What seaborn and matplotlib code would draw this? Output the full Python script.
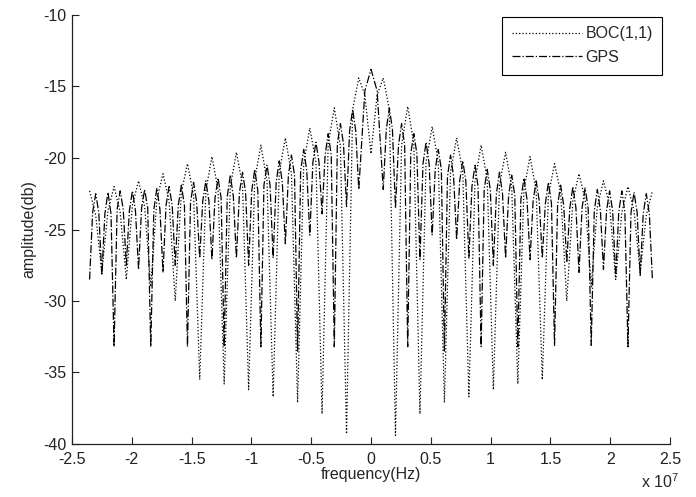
import matplotlib
matplotlib.use("Agg")
import pandas as pd
import matplotlib.pyplot as plt
import seaborn as sns

chip_rate = 1.023e6  # Hz, spectrum nulls sit on multiples of the chip rate

# GPS C/A (BPSK): one lobe per chip, nulls at every chip multiple
gps_null_k = list(range(-23, 0)) + list(range(1, 24))
gps_null_db = [
    -28.5, -28.2, -33.2, -27.5, -27.8, -33.2, -28.0, -27.5, -33.2, -27.0, -27.1, -33.2,
    -27.0, -27.5, -33.2, -27.0, -26.0, -33.5, -25.4, -23.9, -33.2, -23.4, -22.2,
    -22.2, -23.5, -33.2, -27.1, -25.4, -33.5, -25.7, -27.0, -33.2, -27.5, -27.0, -33.2,
    -27.1, -27.0, -33.1, -27.3, -28.0, -33.1, -27.8, -28.3, -33.2, -28.2, -28.5,
]
# lobe centres (chip units), top of each lobe and the level on its shoulders
gps_peak_k = [-22.5, -21.5, -20.5, -19.5, -18.5, -17.5, -16.5, -15.5, -14.5, -13.5, -12.5,
              -11.5, -10.5, -9.5, -8.5, -7.5, -6.5, -5.5, -4.5, -3.5, -2.5, -1.5,
              0,
              1.5, 2.5, 3.5, 4.5, 5.5, 6.5, 7.5, 8.5, 9.5, 10.5, 11.5,
              12.5, 13.5, 14.5, 15.5, 16.5, 17.5, 18.5, 19.5, 20.5, 21.5, 22.5]
gps_peak_db = [-22.5, -22.4, -22.3, -22.3, -22.2, -22.1, -22.0, -21.9, -21.7, -21.6, -21.4,
               -21.2, -21.0, -20.8, -20.5, -20.2, -19.8, -19.4, -18.9, -18.3, -17.6, -16.6,
               -13.8,
               -16.5, -17.6, -18.3, -18.9, -19.4, -19.8, -20.2, -20.5, -20.8, -21.0, -21.2,
               -21.4, -21.6, -21.7, -21.9, -22.0, -22.1, -22.2, -22.3, -22.3, -22.4, -22.5]
gps_shoulder_db = [-23.8, -23.9, -23.6, -23.7, -23.5, -23.6, -23.3, -23.3, -23.1, -23.0, -22.8,
                   -22.7, -22.4, -22.3, -21.9, -21.7, -21.2, -20.9, -20.3, -19.8, -19.0, -18.1,
                   -15.3,
                   -18.0, -19.1, -19.7, -20.4, -20.8, -21.3, -21.6, -22.0, -22.2, -22.5, -22.6,
                   -22.9, -23.0, -23.2, -23.3, -23.5, -23.5, -23.7, -23.7, -23.8, -23.8, -23.9]

# BOC(1,1): lobes two chips wide, peaks on odd chip multiples, nulls on even ones
boc_k = list(range(-23, 24))
boc_db = [
    -22.3, -28.0, -22.0, -28.5, -21.6, -29.0, -21.1, -30.0, -20.4, -35.5, -19.9, -35.8,
    -19.6, -36.2, -19.1, -36.7, -18.6, -37.1, -17.9, -37.9, -16.5, -39.3, -14.4,
    -19.7,
    -14.4, -39.4, -16.4, -37.9, -17.8, -37.1, -18.6, -36.7, -19.1, -36.2, -19.6, -35.8,
    -19.9, -35.5, -20.4, -30.0, -21.1, -29.0, -21.6, -28.5, -22.0, -28.0, -22.3,
]
# level read half a chip away from every BOC peak / null (k = -22.5 ... 22.5)
boc_half_db = [
    -24.0, -23.7, -23.8, -23.3, -23.4, -22.9, -23.0, -22.4, -22.6, -22.3, -22.2, -22.0,
    -21.9, -21.5, -21.6, -21.0, -21.1, -20.4, -20.3, -19.0, -19.2, -16.6, -15.6,
    -15.6, -16.6, -19.1, -19.0, -20.3, -20.3, -21.0, -21.0, -21.6, -21.5, -21.9, -22.0,
    -22.2, -22.3, -22.6, -22.4, -23.0, -22.9, -23.4, -23.3, -23.8, -23.7, -24.0,
]

x_ticks = [-2.5e7, -2e7, -1.5e7, -1e7, -0.5e7, 0, 0.5e7, 1e7, 1.5e7, 2e7, 2.5e7]
x_tick_labels = ["-2.5", "-2", "-1.5", "-1", "-0.5", "0", "0.5", "1", "1.5", "2", "2.5"]
y_ticks = [-40, -35, -30, -25, -20, -15, -10]
y_tick_labels = ["-40", "-35", "-30", "-25", "-20", "-15", "-10"]


def build_gps():
    nulls = pd.DataFrame({"k": gps_null_k, "db": gps_null_db})
    peaks = pd.DataFrame({"k": gps_peak_k, "db": gps_peak_db})
    shoulder_k, shoulder_db = [], []
    for c, v in zip(gps_peak_k, gps_shoulder_db):
        off = 0.5 if c == 0 else 0.25
        shoulder_k += [c - off, c + off]
        shoulder_db += [v, v]
    shoulders = pd.DataFrame({"k": shoulder_k, "db": shoulder_db})
    df = pd.concat([nulls, peaks, shoulders]).sort_values("k")
    df["freq"] = df["k"] * chip_rate
    return df


def build_boc():
    main = pd.DataFrame({"k": boc_k, "db": boc_db})
    half = pd.DataFrame({"k": [k + 0.5 for k in boc_k[:-1]], "db": boc_half_db})
    df = pd.concat([main, half]).sort_values("k")
    df["freq"] = df["k"] * chip_rate
    return df


def main():
    sns.set_style("ticks")
    plt.rcParams["font.family"] = ["Liberation Sans", "DejaVu Sans"]
    plt.rcParams["mathtext.fontset"] = "custom"
    plt.rcParams["mathtext.rm"] = "Liberation Sans"
    plt.rcParams["axes.unicode_minus"] = False

    fig = plt.figure(figsize=(6.96, 4.97), dpi=100)
    ax = fig.add_axes([72 / 696, 53 / 497, 598 / 696, 429 / 497])

    boc = build_boc()
    gps = build_gps()
    sns.lineplot(data=boc, x="freq", y="db", ax=ax, color="black", linestyle=":",
                 linewidth=0.9, estimator=None, label="BOC(1,1)")
    sns.lineplot(data=gps, x="freq", y="db", ax=ax, color="black", linestyle="-.",
                 linewidth=0.9, estimator=None, label="GPS")

    ax.set_xlim(-2.5e7, 2.5e7)
    ax.set_ylim(-40, -10)
    ax.set_xticks(x_ticks)
    ax.set_xticklabels(x_tick_labels)
    ax.set_yticks(y_ticks)
    ax.set_yticklabels(y_tick_labels)
    ax.tick_params(direction="in", length=5, width=0.8, labelsize=11.5, colors="#222222")
    ax.tick_params(axis="x", pad=6)
    ax.tick_params(axis="y", pad=4)
    for side in ["top", "right"]:
        ax.spines[side].set_visible(False)
    for side in ["left", "bottom"]:
        ax.spines[side].set_linewidth(0.9)
        ax.spines[side].set_color("#222222")

    ax.set_xlabel("frequency(Hz)", fontsize=11.5, labelpad=0)
    ax.set_ylabel("amplitude(db)", fontsize=11.5, labelpad=5)
    fig.text(0.975, 0.012, r"x 10$^7$", ha="right", va="bottom", fontsize=11.5)

    leg = ax.legend(loc="upper right", bbox_to_anchor=(0.99, 1.0), frameon=True, fancybox=False,
                    edgecolor="black", framealpha=1, handlelength=4.4, handletextpad=0.2,
                    borderpad=0.6, labelspacing=0.55, fontsize=11.5, borderaxespad=0.1)
    leg.get_frame().set_linewidth(0.8)

    fig.savefig("out.png", dpi=100)


if __name__ == "__main__":
    main()
